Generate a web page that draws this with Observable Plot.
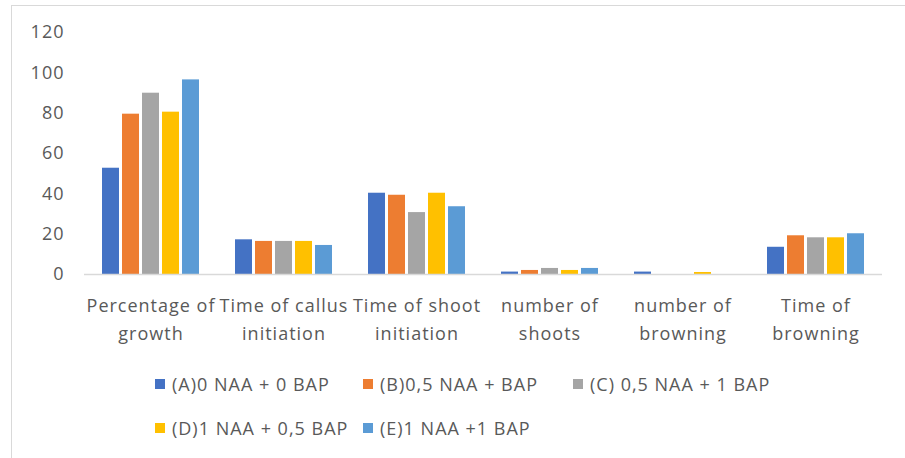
<!DOCTYPE html>
<html>
<head>
<meta charset="utf-8">
<script src="https://cdn.jsdelivr.net/npm/d3@7"></script>
<script src="https://cdn.jsdelivr.net/npm/@observablehq/plot@0.6"></script>
<style>
  html, body { margin: 0; padding: 0; background: #fff; }
  #wrap { position: relative; width: 905px; height: 458px; overflow: hidden; font-family: "Open Sans", sans-serif; color: #595959; }
  #frame { position: absolute; left: 11px; top: 5px; width: 894px; height: 453px; border-top: 1.5px solid #d9d9d9; border-left: 1.5px solid #d9d9d9; box-sizing: border-box; }
  #chart { position: absolute; left: 0; top: 0; }
  #legend { position: absolute; left: 155px; top: 362px; display: grid; grid-template-columns: 208px 210px auto; grid-auto-rows: 44px; font-size: 18px; letter-spacing: 1px; }
  .item { display: flex; align-items: center; white-space: nowrap; }
  .sw { width: 10px; height: 10px; margin-right: 7px; flex: none; }
</style>
</head>
<body>
<div id="wrap">
  <div id="frame"></div>
  <div id="chart"></div>
  <div id="legend"></div>
</div>
<script>
const categories = ["Percentage of growth", "Time of callus initiation", "Time of shoot initiation", "number of shoots", "number of browning", "Time of browning"];
const tickLabels = ["Percentage of\ngrowth", "Time of callus\ninitiation", "Time of shoot\ninitiation", "number of\nshoots", "number of\nbrowning", "Time of\nbrowning"];
const seriesNames = ["(A)0 NAA + 0 BAP", "(B)0,5 NAA + BAP", "(C) 0,5 NAA + 1 BAP", "(D)1 NAA + 0,5 BAP", "(E)1 NAA +1 BAP"];
const seriesColors = ["#4472C4", "#ED7D31", "#A5A5A5", "#FFC000", "#5B9BD5"];
const valuesA = [52.7, 17.2, 40.3, 1.2, 1.2, 13.5];
const valuesB = [79.5, 16.4, 39.3, 2.0, 0, 19.2];
const valuesC = [89.9, 16.4, 30.7, 3.0, 0, 18.2];
const valuesD = [80.5, 16.4, 40.3, 2.0, 1.0, 18.2];
const valuesE = [96.5, 14.4, 33.6, 3.0, 0, 20.2];
const yTicks = [0, 20, 40, 60, 80, 100, 120];

const allValues = [valuesA, valuesB, valuesC, valuesD, valuesE];
const data = [];
categories.forEach((c, ci) => {
  seriesNames.forEach((s, si) => {
    data.push({category: c, series: s, value: allValues[si][ci]});
  });
});

const chart = Plot.plot({
  width: 905,
  height: 350,
  marginTop: 32,
  marginBottom: 76,
  marginLeft: 83,
  marginRight: 23,
  facet: {marginTop: 0, marginBottom: 0, marginLeft: 0, marginRight: 0},
  style: {fontFamily: "'Open Sans', sans-serif", fontSize: "18px", color: "#595959", background: "transparent", letterSpacing: "1px"},
  fx: {domain: categories, padding: 0, label: null},
  x: {domain: seriesNames, paddingInner: 0.175, paddingOuter: 0.82, axis: null},
  y: {domain: [0, 120], label: null},
  color: {domain: seriesNames, range: seriesColors},
  marks: [
    Plot.barY(data, {fx: "category", x: "series", y: "value", fill: "series"}),
    Plot.ruleY([0], {stroke: "#d9d9d9", strokeWidth: 1.5}),
    Plot.axisY({ticks: yTicks, tickSize: 0, tickPadding: 20, label: null, fontSize: 18}),
    Plot.axisFx({anchor: "bottom", tickSize: 0, tickPadding: 18, label: null, lineHeight: 1.55, fontSize: 18,
      tickFormat: (d) => tickLabels[categories.indexOf(d)]})
  ]
});
document.getElementById("chart").appendChild(chart);

const legend = document.getElementById("legend");
seriesNames.forEach((s, i) => {
  const item = document.createElement("div");
  item.className = "item";
  const sw = document.createElement("span");
  sw.className = "sw";
  sw.style.background = seriesColors[i];
  const tx = document.createElement("span");
  tx.textContent = s;
  item.appendChild(sw);
  item.appendChild(tx);
  legend.appendChild(item);
});
</script>
</body>
</html>
